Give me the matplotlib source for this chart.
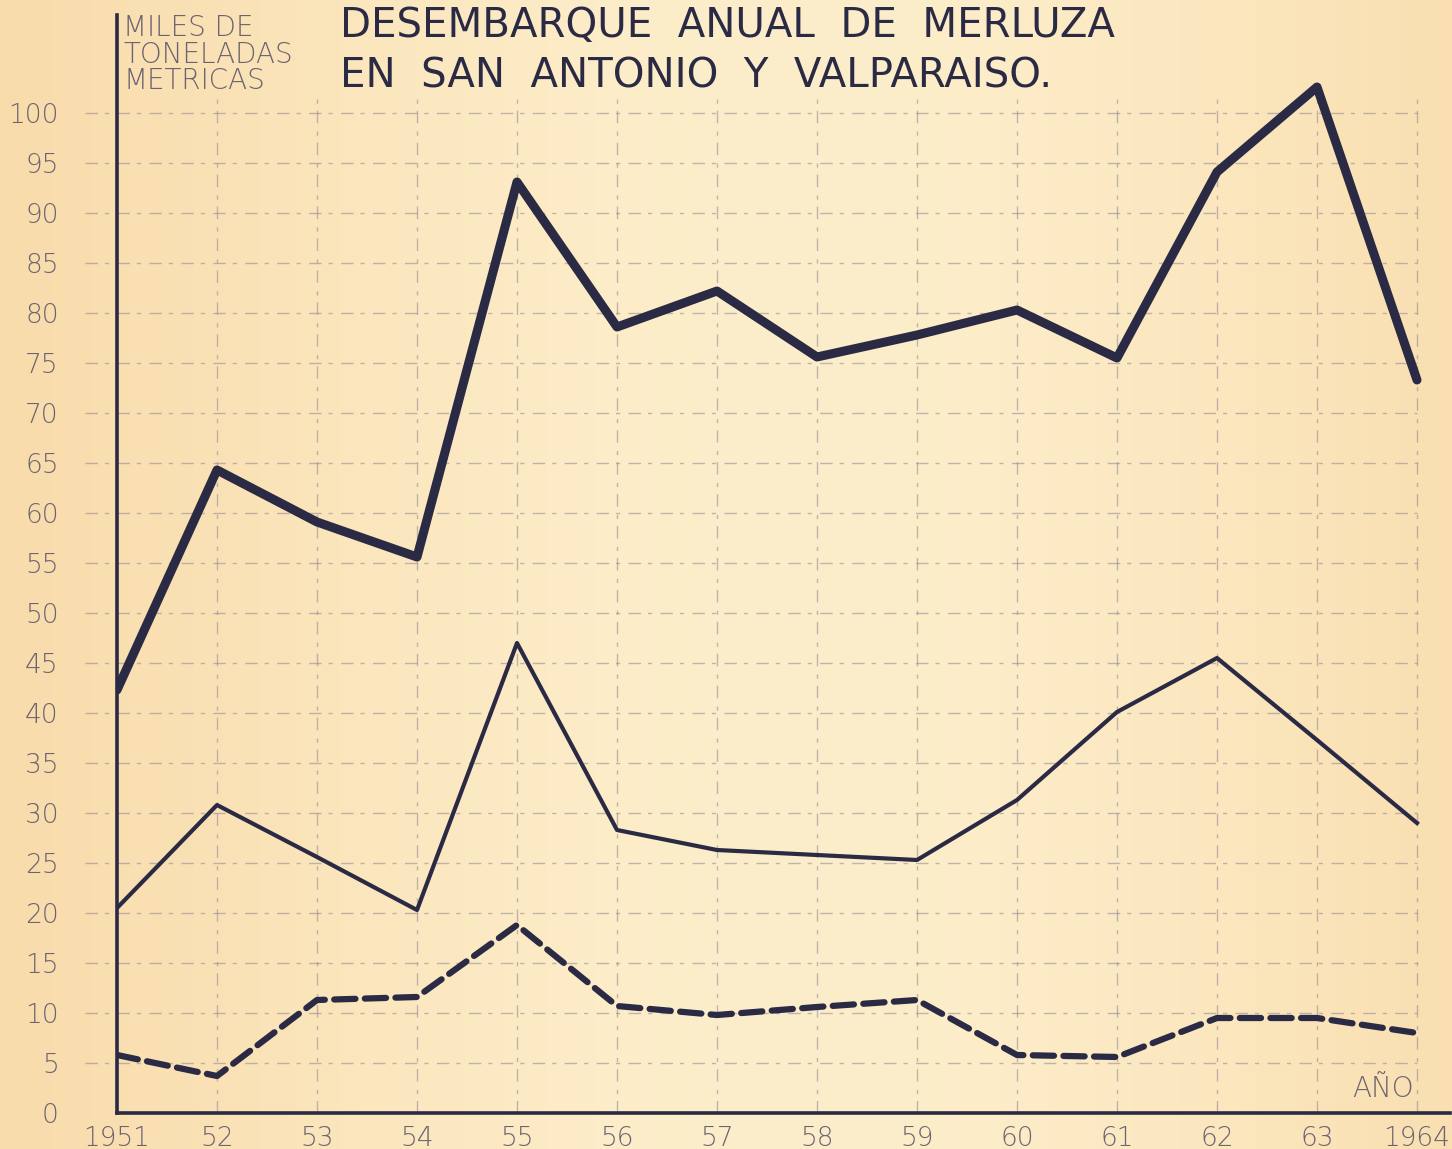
import matplotlib.pyplot as plt
import numpy as np

# landings of hake, thousands of metric tons
years = [1951, 1952, 1953, 1954, 1955, 1956, 1957, 1958, 1959, 1960, 1961, 1962, 1963, 1964]
year_labels = ['1951', '52', '53', '54', '55', '56', '57', '58', '59', '60', '61', '62', '63', '1964']
total = [42.3, 64.3, 59.1, 55.6, 93.1, 78.6, 82.2, 75.6, 77.8, 80.3, 75.5, 94.1, 102.6, 73.3]
middle = [20.5, 30.8, 25.6, 20.3, 47.0, 28.3, 26.3, 25.8, 25.3, 31.3, 40.1, 45.5, 37.3, 29.0]
lower = [5.8, 3.7, 11.3, 11.6, 18.8, 10.7, 9.8, 10.6, 11.3, 5.8, 5.6, 9.5, 9.5, 8.0]
y_ticks = list(range(0, 101, 5))

paper = '#fbe6bb'
ink = '#2b2a44'
grid_c = '#8f8593'
label_c = '#6b6470'

W, H = 1452, 1149
fig = plt.figure(figsize=(W / 100, H / 100), dpi=100, facecolor=paper)

# paper tint: warmer towards the left and right edges
grad = np.linspace(0, 1, 300)
tint = 1 - np.exp(-((grad - 0.55) / 0.5) ** 2)
bg = np.zeros((10, 300, 3))
warm = np.array([247, 212, 158]) / 255
light = np.array([253, 238, 203]) / 255
for i in range(3):
    bg[:, :, i] = light[i] + (warm[i] - light[i]) * tint
bgax = fig.add_axes([0, 0, 1, 1], zorder=-10)
bgax.imshow(bg, aspect='auto', extent=[0, 1, 0, 1])
bgax.axis('off')

left, right, bottom, top = 117, 1450, 1113, 15
ax = fig.add_axes([left / W, 1 - bottom / H, (right - left) / W, (bottom - top) / H])
ax.set_facecolor('none')
ax.set_xlim(1951, 1951 + (right - left) / 100)
ax.set_ylim(0, (bottom - top) / 10)

for s in ['top', 'right']:
    ax.spines[s].set_visible(False)
for s in ['left', 'bottom']:
    ax.spines[s].set_color(ink)
    ax.spines[s].set_linewidth(2.6)

# hand-ruled grid
grid_style = (0, (9, 5, 3, 6))
ax.hlines(y_ticks[1:], 1950.68, years[-1], colors=grid_c, linewidth=1.0,
          linestyles=grid_style, clip_on=False, alpha=0.55, zorder=1)
ax.vlines(years[1:], 0, 101.8, colors=grid_c, linewidth=1.0,
          linestyles=grid_style, alpha=0.55, zorder=1)

ax.plot(years, total, color=ink, linewidth=6.5, solid_joinstyle='round',
        solid_capstyle='round', zorder=5)
ax.plot(years, middle, color=ink, linewidth=3.0, solid_joinstyle='round', zorder=5)
ax.plot(years, lower, color=ink, linewidth=4.5, linestyle=(0, (3.4, 1.5)),
        dash_capstyle='round', zorder=5)

ax.set_yticks(y_ticks)
ax.set_yticklabels([str(v) for v in y_ticks])
ax.set_xticks(years)
ax.set_xticklabels(year_labels)
ax.tick_params(axis='y', length=0, pad=42, labelsize=19, labelcolor=label_c)
ax.tick_params(axis='x', length=0, pad=9, labelsize=19, labelcolor=label_c)
for t in ax.get_xticklabels() + ax.get_yticklabels():
    t.set_fontweight('light')

fig.text(123 / W, 1 - 14 / H, 'MILES DE\nTONELADAS\nMETRICAS', ha='left', va='top',
         fontsize=20, color=label_c, linespacing=0.94, fontweight='light')
fig.text(340 / W, 1 - 51 / H, 'DESEMBARQUE  ANUAL  DE  MERLUZA\nEN  SAN  ANTONIO  Y  VALPARAISO.',
         ha='left', va='center', fontsize=29, color=ink, linespacing=1.35,
         fontweight='medium')
ax.text(1963.35, 1.0, 'AÑO', ha='left', va='bottom', fontsize=20, color=label_c,
        fontweight='light')

fig.savefig('out.png', dpi=100, facecolor=paper)
